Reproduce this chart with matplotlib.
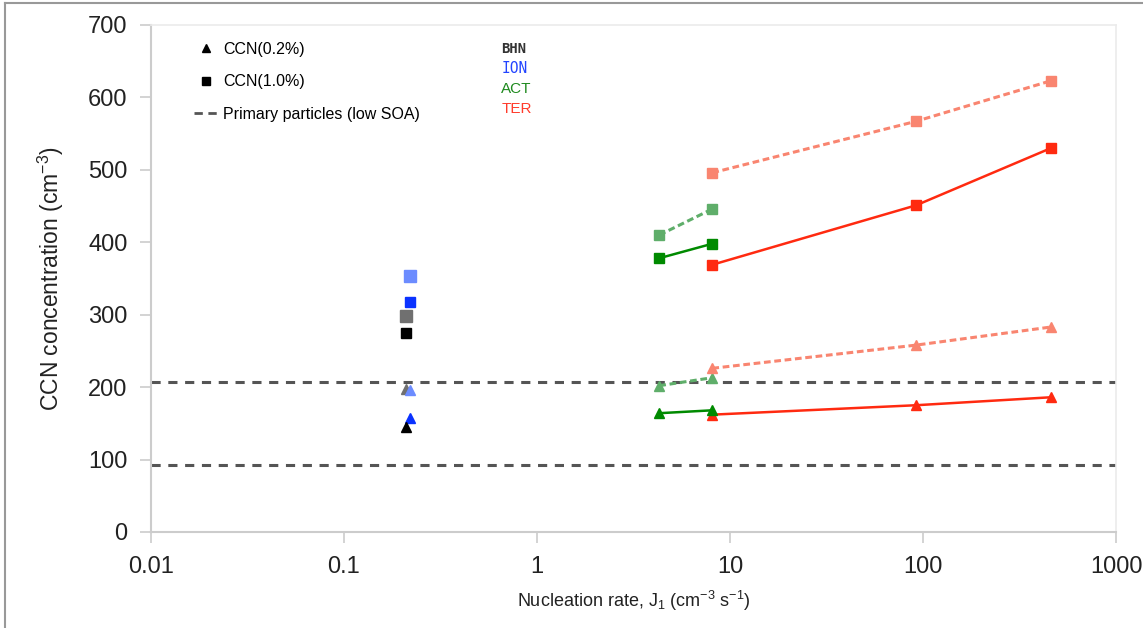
import matplotlib
matplotlib.use("Agg")
import matplotlib.pyplot as plt
from matplotlib.lines import Line2D

plt.rcParams['font.family'] = ['Liberation Sans', 'DejaVu Sans']
plt.rcParams['mathtext.fontset'] = 'custom'
plt.rcParams['mathtext.rm'] = 'Liberation Sans'
plt.rcParams['mathtext.it'] = 'Liberation Sans:italic'

# nucleation rates (cm-3 s-1)
j_bhn = [0.21]
j_ion = [0.22]
j_act = [4.3, 8.1]
j_ter = [8.1, 92, 460]

# CCN(1.0%) squares: solid = high SOA, light = other case
bhn_sq = [275]
bhn_sq_light = [298]
ion_sq = [318]
ion_sq_light = [353]
act_sq = [378, 398]
act_sq_light = [410, 446]
ter_sq = [369, 451, 530]
ter_sq_light = [496, 567, 623]

# CCN(0.2%) triangles
bhn_tri = [145]
bhn_tri_light = [198]
ion_tri = [157]
ion_tri_light = [196]
act_tri = [164, 168]
act_tri_light = [202, 213]
ter_tri = [162, 175, 186]
ter_tri_light = [226, 258, 283]

# primary particles (low SOA) levels
primary_levels = [207, 93]

blk, gry = '#000000', '#707070'
blu, lblu = '#0a32ff', '#6c8cff'
grn, lgrn = '#008a00', '#5fae6a'
red, lred = '#ff2a10', '#f98570'

fig = plt.figure(figsize=(11.43, 6.28), dpi=100)
ax = fig.add_axes([0.1321, 0.1529, 0.8443, 0.8073])

ms = 7.5
dash = (0, (2.2, 1.2))
for lvl in primary_levels:
    ax.axhline(lvl, color='#555555', lw=2.2, ls=(0, (3, 2.5)), zorder=1)

# single points
ax.plot(j_bhn, bhn_sq_light, 's', color=gry, ms=ms + 1)
ax.plot(j_bhn, bhn_sq, 's', color=blk, ms=ms)
ax.plot(j_ion, ion_sq_light, 's', color=lblu, ms=ms + 1)
ax.plot(j_ion, ion_sq, 's', color=blu, ms=ms)
ax.plot(j_bhn, bhn_tri_light, '^', color=gry, ms=ms)
ax.plot(j_ion, ion_tri_light, '^', color=lblu, ms=ms)
ax.plot(j_ion, ion_tri, '^', color=blu, ms=ms)
ax.plot(j_bhn, bhn_tri, '^', color=blk, ms=ms)

# ACT and TER series
ax.plot(j_act, act_sq_light, 's', ls=dash, color=lgrn, lw=2.2, ms=ms)
ax.plot(j_act, act_sq, 's-', color=grn, lw=1.8, ms=ms)
ax.plot(j_ter, ter_sq_light, 's', ls=dash, color=lred, lw=2.2, ms=ms)
ax.plot(j_ter, ter_sq, 's-', color=red, lw=1.8, ms=ms)
ax.plot(j_act, act_tri_light, '^', ls=dash, color=lgrn, lw=2.2, ms=ms)
ax.plot(j_ter, ter_tri_light, '^', ls=dash, color=lred, lw=2.2, ms=ms)
ax.plot(j_ter, ter_tri, '^-', color=red, lw=1.8, ms=ms)
ax.plot(j_act, act_tri, '^-', color=grn, lw=1.8, ms=ms)

ax.set_xscale('log')
ax.set_xlim(0.01, 1000)
ax.set_ylim(0, 700)
ax.set_xticks([0.01, 0.1, 1, 10, 100, 1000])
ax.set_xticklabels(['0.01', '0.1', '1', '10', '100', '1000'])
ax.minorticks_off()
ax.set_yticks(range(0, 701, 100))

for s in ['top', 'right']:
    ax.spines[s].set_color('#ebebeb')
    ax.spines[s].set_linewidth(1.2)
for s in ['left', 'bottom']:
    ax.spines[s].set_color('#cccccc')
    ax.spines[s].set_linewidth(1.5)
ax.tick_params(axis='both', colors='#cccccc', labelcolor='#222222', labelsize=17,
               length=8, width=1.2)
ax.tick_params(axis='x', pad=9)
ax.tick_params(axis='y', pad=9)

ax.set_ylabel(r'CCN concentration (cm$^{-3}$)', fontsize=16.5, color='#222222', labelpad=16)
ax.set_xlabel(r'Nucleation rate, J$_1$ (cm$^{-3}$ s$^{-1}$)', fontsize=13, color='#222222', labelpad=8)

handles = [
    Line2D([], [], marker='^', ls='none', color='black', ms=6),
    Line2D([], [], marker='s', ls='none', color='black', ms=6),
    Line2D([], [], ls=(0, (3, 2)), color='#555555', lw=2),
]
labels = ['CCN(0.2%)', 'CCN(1.0%)', 'Primary particles (low SOA)']
ax.legend(handles, labels, loc='upper left', bbox_to_anchor=(0.03, 0.995), frameon=False,
          fontsize=11.5, handlelength=1.5, handletextpad=0.3, labelspacing=1.1)

mono = ['DejaVu Sans Mono']
ax.text(0.363, 0.945, 'BHN', transform=ax.transAxes, color='#333333', fontsize=10,
        family=mono, fontweight='bold')
ax.text(0.363, 0.905, 'ION', transform=ax.transAxes, color='#2244ff', fontsize=10.5, family=mono)
ax.text(0.363, 0.866, 'ACT', transform=ax.transAxes, color='#1f8a1f', fontsize=11)
ax.text(0.363, 0.826, 'TER', transform=ax.transAxes, color='#ff3b2b', fontsize=11)

# figure border (left and top)
fig.add_artist(Line2D([0.004, 0.004], [0.0, 0.995], color='#999999', lw=1.5))
fig.add_artist(Line2D([0.004, 1.0], [0.995, 0.995], color='#999999', lw=1.5))

fig.savefig('out.png', dpi=100)
